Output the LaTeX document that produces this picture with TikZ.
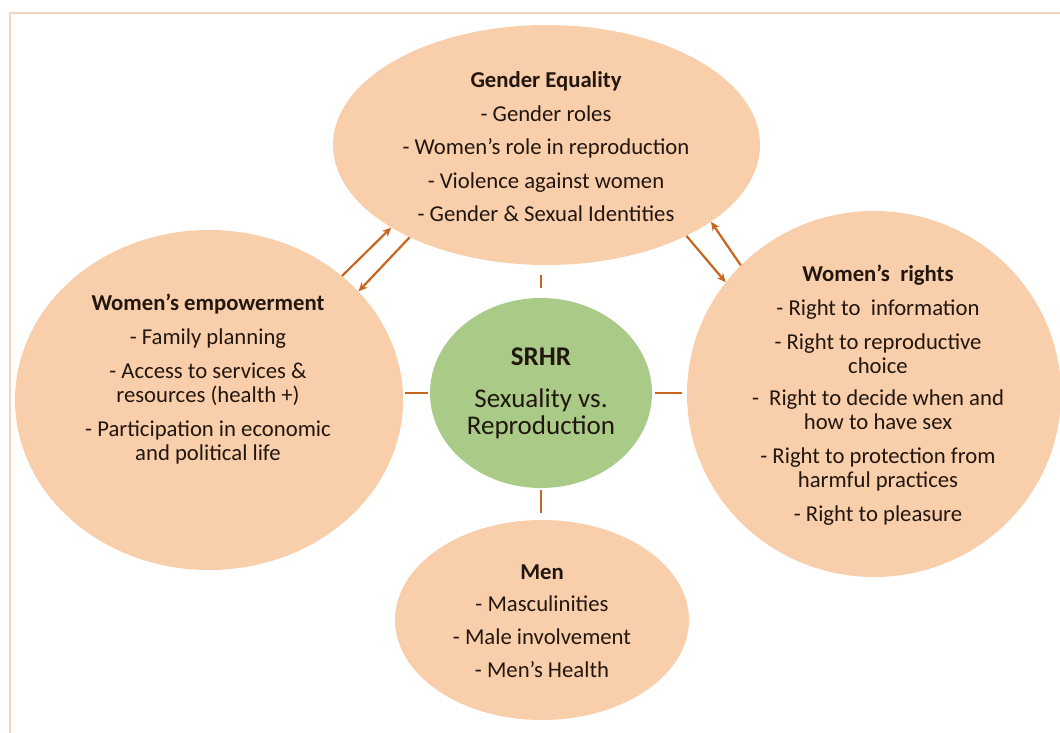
\documentclass[tikz,border=0pt]{standalone}
\usepackage{fontspec}
\setmainfont{Carlito}
\usetikzlibrary{shapes.geometric,arrows.meta}
\definecolor{peach}{RGB}{249,206,170}
\definecolor{sage}{RGB}{170,203,135}
\definecolor{rust}{RGB}{200,102,32}
\definecolor{framecol}{RGB}{238,214,194}
\definecolor{ink}{RGB}{34,22,16}
\tikzset{
  blob/.style={ellipse, fill=peach, draw=none, inner sep=0pt},
  core/.style={ellipse, fill=sage, draw=none, inner sep=0pt},
  body/.style={align=center, text=ink, inner sep=0pt,
    font=\fontsize{22.7}{24}\selectfont},
  coretext/.style={align=center, text=ink, inner sep=0pt,
    font=\fontsize{27}{27}\selectfont},
  link/.style={draw=rust, line width=2.3pt},
  twoway/.style={draw=rust, line width=2.2pt,
    -{Stealth[length=9pt,width=8pt]}},
}
\begin{document}
\begin{tikzpicture}[x=1pt,y=-1pt]
\useasboundingbox (0,0) rectangle (1060,733);
% outer frame
\draw[framecol, line width=1.8pt] (1065,13) -- (10,13) -- (10,740);

% topic shapes
\node[blob, minimum width=427pt, minimum height=240pt] (gender) at (546.5,145) {};
\node[blob, minimum width=388pt, minimum height=340pt] (wemp) at (209,400) {};
\node[blob, minimum width=374pt, minimum height=366pt] (wrights) at (874,394) {};
\node[blob, minimum width=294pt, minimum height=200pt] (men) at (542,620) {};
\node[core, minimum width=222pt, minimum height=190pt] (srhr) at (541,393) {};

% texts
\node[body] (gendertxt) at (546,147) {\textbf{Gender Equality}\\[9.5pt]
  - Gender roles\\[9.5pt]
  - Women’s role in reproduction\\[9.5pt]
  - Violence against women\\[9.5pt]
  - Gender \& Sexual Identities};
\node[body] (wemptxt) at (208,379) {\textbf{Women’s empowerment}\\[10pt]
  - Family planning\\[10pt]
  - Access to services \&\\
  resources (health +)\\[10pt]
  - Participation in economic\\
  and political life};
\node[body] (wrightstxt) at (878,395) {\textbf{Women’s\ \ rights}\\[10pt]
  - Right to\ \ information\\[10pt]
  - Right to reproductive\\
  choice\\[8pt]
  -\ \ Right to decide when and\\
  how to have sex\\[10pt]
  - Right to protection from\\
  harmful practices\\[10pt]
  - Right to pleasure};
\node[body] (mentxt) at (542,621) {\textbf{Men}\\[8pt]
  - Masculinities\\[9pt]
  - Male involvement\\[9pt]
  - Men’s Health};
\node[coretext] (srhrtxt) at (541,393) {\textbf{SRHR}\\[15pt]
  Sexuality vs.\\
  Reproduction};

% short links from the core
\draw[link, shorten <=10pt, shorten >=10pt] (srhr.north) -- (srhr.north |- gender.south);
\draw[link, shorten <=2pt, shorten >=2pt] (srhr.west) -- (srhr.west -| wemp.east);
\draw[link, shorten <=3pt, shorten >=5pt] (srhr.east) -- (srhr.east -| wrights.west);
\draw[link, shorten <=2pt, shorten >=7pt] (srhr.south) -- (srhr.south |- men.north);

% two-way arrows between the outer topics
\draw[twoway] (wemp.43.7) -- (gender.208);
\draw[twoway] (gender.214.7) -- (wemp.36.4);
\draw[twoway] (wrights.136.2) -- (gender.335.5);
\draw[twoway] (gender.327.6) -- (wrights.143.9);
\end{tikzpicture}
\end{document}
